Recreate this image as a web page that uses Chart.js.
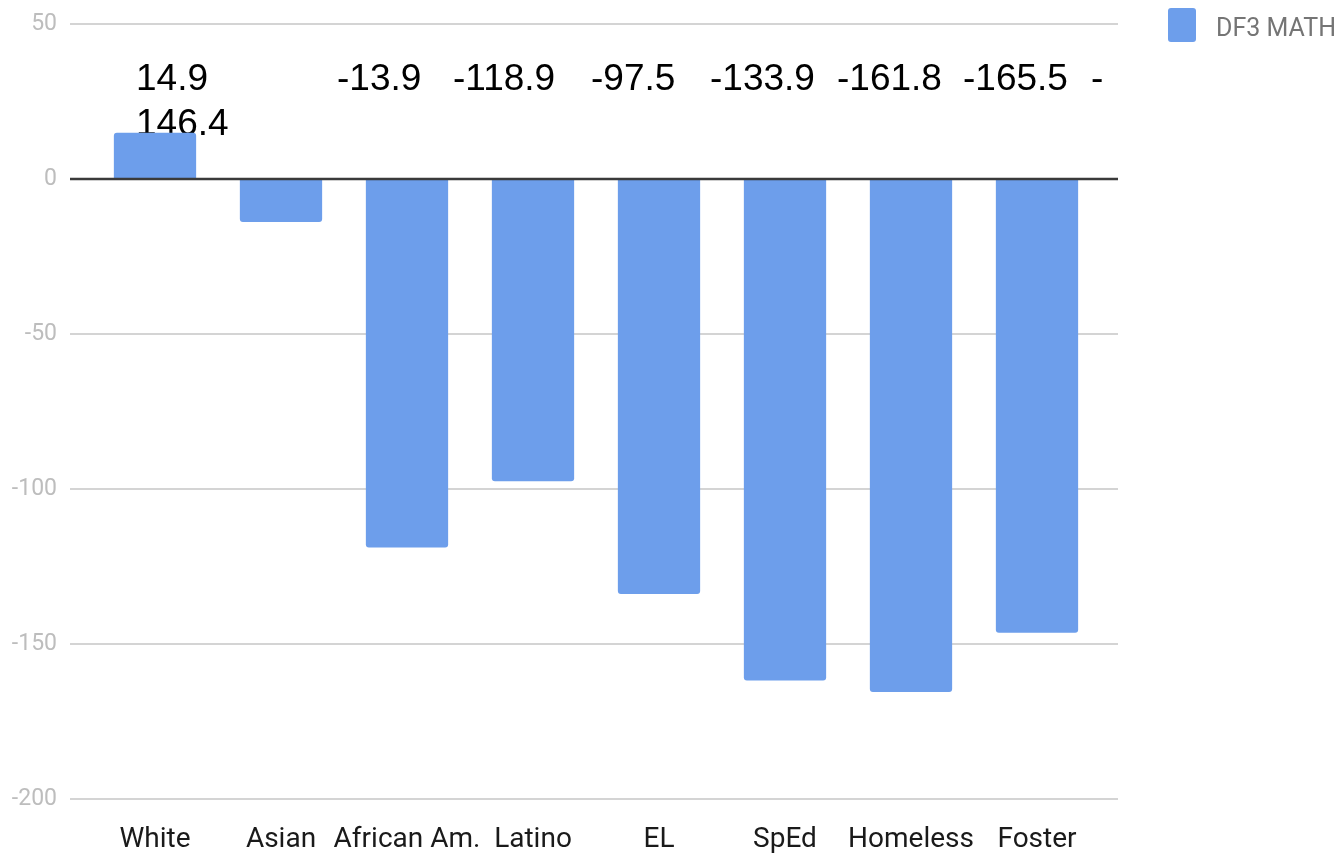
<!DOCTYPE html>
<html>
<head>
<meta charset="utf-8">
<script src="https://cdn.jsdelivr.net/npm/chart.js@4.4.0/dist/chart.umd.min.js"></script>
<style>
  html, body { margin: 0; padding: 0; background: #fff; }
  #wrap { width: 1342px; height: 855px; }
</style>
</head>
<body>
<div id="wrap"><canvas id="chart1"></canvas></div>
<script>
const categories = ['White', 'Asian', 'African Am.', 'Latino', 'EL', 'SpEd', 'Homeless', 'Foster'];
const mathValues = [14.9, -13.9, -118.9, -97.5, -133.9, -161.8, -165.5, -146.4];
const topLabels = ['14.9', '-13.9', '-118.9', '-97.5', '-133.9', '-161.8', '-165.5', '-'];
const wrappedLabel = '146.4';
const yTicks = [50, 0, -50, -100, -150, -200];

// left edge of each typed value, measured from its category centre
const labelShift = [-19, 56, 46, 58, 51, 52, 52, 54];

// grid lines reach a bit past the bars on both sides
const gridLines = {
    id: 'gridLines',
    beforeDatasetsDraw(chart) {
        const ctx = chart.ctx, y = chart.scales.y, a = chart.chartArea;
        ctx.save();
        ctx.strokeStyle = '#d4d4d4';
        ctx.lineWidth = 2;
        yTicks.forEach(v => {
            if (v === 0) return;
            const py = Math.round(y.getPixelForValue(v));
            ctx.beginPath();
            ctx.moveTo(a.left - 22, py);
            ctx.lineTo(a.right + 18, py);
            ctx.stroke();
        });
        ctx.restore();
    },
    afterDatasetsDraw(chart) {
        const ctx = chart.ctx, y = chart.scales.y, a = chart.chartArea;
        const py = Math.round(y.getPixelForValue(0));
        ctx.save();
        ctx.strokeStyle = '#3a3a3a';
        ctx.lineWidth = 2.5;
        ctx.beginPath();
        ctx.moveTo(a.left - 22, py);
        ctx.lineTo(a.right + 18, py);
        ctx.stroke();
        ctx.restore();
    }
};

// the row of values typed above the chart (sits under the bars)
const valueText = {
    id: 'valueText',
    beforeDatasetsDraw(chart) {
        const ctx = chart.ctx, x = chart.scales.x;
        ctx.save();
        ctx.font = '37px "Liberation Sans", Arial, sans-serif';
        ctx.fillStyle = '#000';
        ctx.textAlign = 'left';
        ctx.textBaseline = 'alphabetic';
        topLabels.forEach((t, i) => {
            ctx.fillText(t, x.getPixelForValue(i) + labelShift[i], 90);
        });
        ctx.fillText(wrappedLabel, x.getPixelForValue(0) + labelShift[0], 135);
        ctx.restore();
    }
};

const sideLegend = {
    id: 'sideLegend',
    afterDraw(chart) {
        const ctx = chart.ctx, a = chart.chartArea;
        const ds = chart.data.datasets[0];
        const bx = a.right + 68;
        ctx.save();
        ctx.fillStyle = ds.backgroundColor;
        ctx.beginPath();
        ctx.roundRect(bx, 8, 28, 34, 3);
        ctx.fill();
        ctx.font = '25px Roboto, sans-serif';
        ctx.fillStyle = '#757575';
        ctx.textBaseline = 'alphabetic';
        ctx.fillText(ds.label, bx + 48, 36);
        ctx.restore();
    }
};

const bar_chart = document.getElementById('chart1').getContext('2d');
new Chart(bar_chart, {
    type: 'bar',
    data: {
        labels: categories,
        datasets: [{
            label: 'DF3 MATH',
            data: mathValues,
            backgroundColor: '#6d9eeb',
            borderRadius: 3,
            barPercentage: 0.653,
            categoryPercentage: 1
        }]
    },
    options: {
        responsive: true,
        maintainAspectRatio: false,
        animation: false,
        layout: { padding: { top: 0, right: 242, left: 0, bottom: 0 } },
        plugins: {
            legend: { display: false },
            tooltip: { enabled: false }
        },
        scales: {
            x: {
                grid: { display: false, drawTicks: false },
                border: { display: false },
                ticks: {
                    color: '#1a1a1a',
                    font: { family: 'Roboto', size: 28 },
                    padding: 24,
                    maxRotation: 0,
                    autoSkip: false
                },
                afterFit(scale) { scale.height = 56; }
            },
            y: {
                min: -200,
                max: 50,
                grid: { display: false, drawTicks: false },
                border: { display: false },
                ticks: {
                    stepSize: 50,
                    color: '#bdbdbd',
                    font: { family: 'Roboto', size: 23 },
                    padding: 35
                },
                afterFit(scale) {
                    scale.width = 92;
                    scale.paddingTop = 24;
                }
            }
        }
    },
    plugins: [gridLines, valueText, sideLegend]
});
</script>
</body>
</html>
